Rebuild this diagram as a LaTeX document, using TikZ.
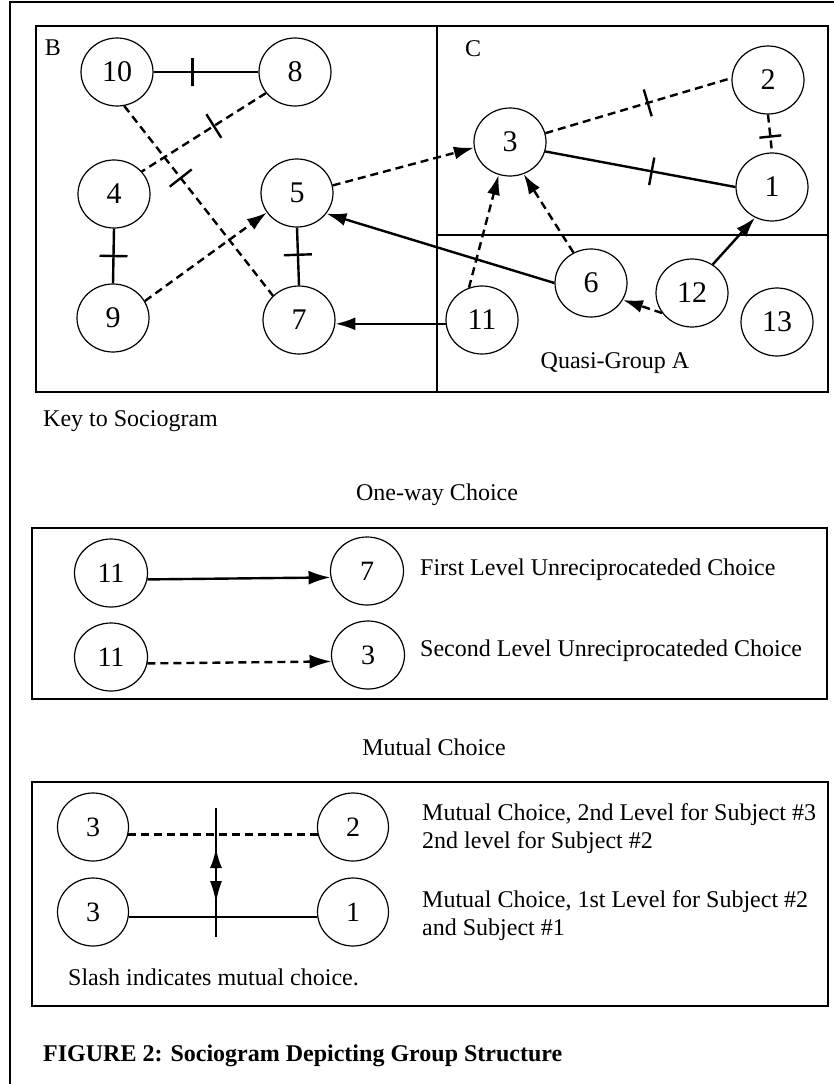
\documentclass[tikz,border=0pt]{standalone}
\usepackage{fontspec}
\setmainfont{Liberation Serif}
\usetikzlibrary{shapes.geometric,arrows.meta}
\begin{document}
\begin{tikzpicture}[x=1pt,y=-1pt,
  pers/.style={ellipse,draw,line width=1.2pt,minimum width=72pt,minimum height=68pt,inner sep=0pt,font=\fontsize{30}{30}\selectfont},
  kpers/.style={pers,minimum width=73pt,font=\fontsize{28}{28}\selectfont},
  edge/.style={line width=2.4pt},
  dsh/.style={edge,dash pattern=on 8pt off 5pt},
  arr/.style={-{Latex[length=20pt,width=13pt]}},
  tick/.style={draw,solid,line width=2.4pt,sloped,minimum width=0pt,minimum height=28pt,inner sep=0pt,outer sep=0pt},
  txt/.style={font=\fontsize{24}{28}\selectfont,inner sep=0pt,align=left},
  box/.style={draw,line width=2.2pt}]
\useasboundingbox (0,0) rectangle (834,1084);
% outer frame (top and left only)
\draw[line width=1.4pt] (10,1084) -- (10,2) -- (834,2);

% sociogram frames
\draw[box] (36,26) rectangle (828,392);
\draw[box] (437,26) -- (437,392);
\draw[box] (437,235) -- (828,235);
\node[txt] (lB) at (53,48) {B};
\node[txt] (lC) at (473,49) {C};
\node[txt] (lQ) at (615,363) {Quasi-Group A};

% persons
\node[pers] (n10) at (117,72) {10};
\node[pers] (n8) at (295,72) {8};
\node[pers] (n4) at (114,194) {4};
\node[pers] (n5) at (297,193) {5};
\node[pers] (n9) at (113,318) {9};
\node[pers] (n7) at (299,320) {7};
\node[pers] (n3) at (510,142) {3};
\node[pers] (n2) at (768,80) {2};
\node[pers] (n1) at (772,187) {1};
\node[pers] (n6) at (591,283) {6};
\node[pers] (n12) at (692,293) {12};
\node[pers] (n13) at (777,322) {13};
\node[pers] (n11) at (482,320) {11};

% connectors
\draw[edge] (n10.east) -- node[tick,pos=.37]{} (n8.west);
\draw[dsh] (n8.216) -- node[tick,pos=.42]{} (n4.39);
\draw[dsh] (n10.-78) -- node[tick,pos=.38]{} (n7.137);
\draw[edge] (n4.south) -- node[tick,pos=.5]{} (n9.north);
\draw[edge] (n5.south) -- node[tick,pos=.47]{} (n7.north);
\draw[dsh,arr] (n9.28) -- (n5.213);
\draw[dsh,arr] (n5.12) -- (n3.189);
\draw[edge,arr] (n6.180) -- (n5.-35);
\draw[edge,arr] (n11.186) -- (n7.-6);
\draw[dsh,arr] (n11.112) -- (n3.251);
\draw[dsh,arr] (n6.120) -- (n3.-67);
\draw[dsh] (n3.14) -- node[tick,pos=.55]{} (n2.177);
\draw[edge] (n3.-15) -- node[tick,pos=.56]{} (n1.180);
\draw[dsh] (n2.south) -- node[tick,pos=.58,minimum height=22pt]{} (n1.north);
\draw[edge,arr] (n12.54) -- (n1.241);
\draw[dsh,arr] (n12.214) -- (n6.-28);

% key
\node[txt,anchor=west] (key) at (43,421) {Key to Sociogram};
\node[txt] (oneway) at (437,495) {One-way Choice};
\draw[box] (32,528) rectangle (827,699);
\node[kpers] (k11a) at (111,573) {11};
\node[kpers] (k7) at (367,571) {7};
\node[kpers] (k11b) at (111,657) {11};
\node[kpers] (k3a) at (368,655) {3};
\draw[edge,-{Latex[length=22pt,width=14pt]}] (k11a.-10) -- (k7.190);
\draw[dsh,-{Latex[length=22pt,width=14pt]}] (k11b.-10) -- (k3a.190);
\node[txt,anchor=west] (t1) at (420,570) {First Level Unreciprocateded Choice};
\node[txt,anchor=west] (t2) at (420,651) {Second Level Unreciprocateded Choice};

\node[txt] (mutual) at (434,747) {Mutual Choice};
\draw[box] (32,782) rectangle (828,1006);
\node[kpers,minimum width=71pt] (m3a) at (93,827) {3};
\node[kpers,minimum width=71pt] (m2) at (353,827) {2};
\node[kpers,minimum width=71pt] (m3b) at (93,912) {3};
\node[kpers,minimum width=71pt] (m1) at (353,912) {1};
\draw[dsh] (m3a.-12) -- (m2.192);
\draw[edge] (m3b.-8) -- (m1.188);
\coordinate (s1) at (216,808);
\coordinate (s2) at (216,937);
\coordinate (a1) at (216,848);
\coordinate (a2) at (216,903);
\draw[edge] (s1) -- (s2);
\draw[edge,{Latex[length=20pt,width=12pt]}-{Latex[length=22pt,width=12pt]}] (a1) -- (a2);
\node[txt,anchor=west] (t3) at (422,829) {Mutual Choice, 2nd Level for Subject \#3\\2nd level for Subject \#2};
\node[txt,anchor=west] (t4) at (422,916) {Mutual Choice, 1st Level for Subject \#2\\and Subject \#1};
\node[txt,anchor=west] (slash) at (68,977) {Slash indicates mutual choice.};

\node[txt,anchor=west,font=\fontsize{24}{28}\selectfont\bfseries] (fig) at (43,1056) {FIGURE 2: Sociogram Depicting Group Structure};
\end{tikzpicture}
\end{document}
